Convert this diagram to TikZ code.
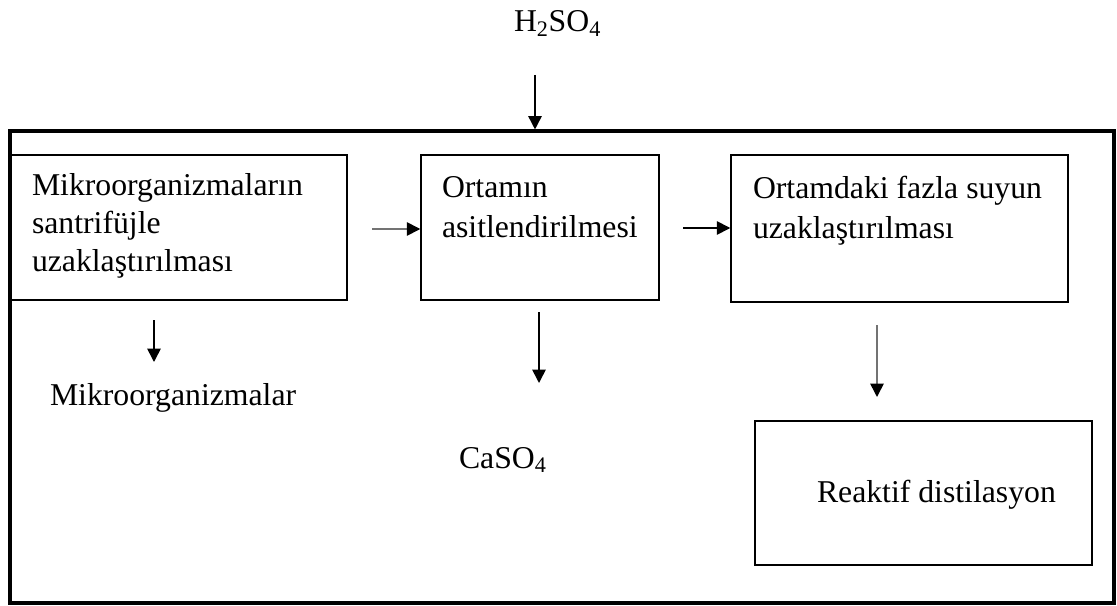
\documentclass[tikz,border=0pt]{standalone}
\usepackage{fontspec}
\setmainfont{Liberation Serif}
\usetikzlibrary{arrows.meta,calc,fit}
\begin{document}
\begin{tikzpicture}[x=0.75pt,y=-0.75pt,
  frame/.style={draw=black, line width=2.3pt, inner sep=0pt},
  box/.style={draw=black, line width=1.1pt, inner sep=0pt},
  txt/.style={inner sep=0pt, outer sep=0pt, align=left, font=\fontsize{23.8}{28.5}\selectfont},
  txtw/.style={txt, font=\fontsize{23.8}{30}\selectfont},
  lbl/.style={inner sep=0pt, outer sep=0pt, font=\fontsize{23.8}{28}\selectfont},
  flow/.style={line width=1.2pt, -{Triangle[length=10pt,width=10pt]}},
  flowg/.style={line width=1.2pt, draw=black!55, -{Triangle[length=10pt,width=10pt,color=black]}}]
\useasboundingbox (0,0) rectangle (1117,606);

% outer frame and process boxes
\node[frame, fit={(10,131) (1114,603)}] (frame) {};
\node[box, fit={(11,155) (347,300)}] (b1) {};
\node[box, fit={(421,155) (659,300)}] (b2) {};
\node[box, fit={(731,155) (1068,302)}] (b3) {};
\node[box, fit={(755,421) (1092,565)}] (b4) {};

% box texts
\node[txt, anchor=north west] (t1) at (32,173.5) {Mikroorganizmaların\\santrifüjle\\uzaklaştırılması};
\node[txtw, anchor=north west] (t2) at (442,176.5) {Ortamın\\asitlendirilmesi};
\node[txtw, anchor=north west] (t3) at (753,176.5) {Ortamdaki fazla suyun\\uzaklaştırılması};
\node[txt, anchor=base west] (t4) at (817,502) {Reaktif distilasyon};

% inputs and outputs
\node[lbl, anchor=base west] (acid) at (514,32) {H\textsubscript{2}SO\textsubscript{4}};
\node[lbl, anchor=base west] (micro) at (50,405) {Mikroorganizmalar};
\node[lbl, anchor=base west] (gyps) at (459,468) {CaSO\textsubscript{4}};

% connectors
\coordinate (h0) at (535,75);
\draw[flow] (h0) -- (h0 |- frame.north);

\coordinate (a1) at (372,229);
\draw[flowg] (a1) -- (a1 -| b2.west);
\coordinate (a2) at (683,228);
\draw[flow] (a2) -- (a2 -| b3.west);

\coordinate (d1) at (154,320);
\coordinate (d1e) at (154,362);
\draw[flow] (d1) -- (d1e);
\coordinate (d2) at (539,312);
\coordinate (d2e) at (539,383);
\draw[flow] (d2) -- (d2e);
\coordinate (d3) at (877,325);
\coordinate (d3e) at (877,397);
\draw[flowg] (d3) -- (d3e);
\end{tikzpicture}
\end{document}
